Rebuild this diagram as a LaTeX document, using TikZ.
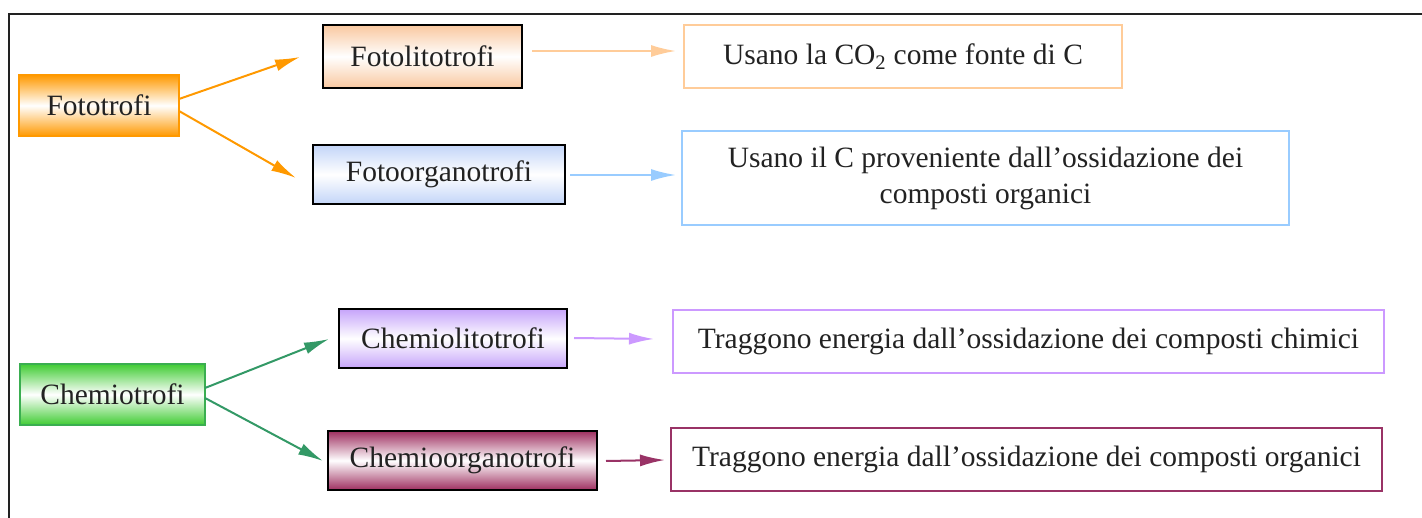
\documentclass[tikz,border=0pt]{standalone}
\usepackage{fontspec}
\setmainfont{Liberation Serif}
\usetikzlibrary{arrows.meta,calc}
\definecolor{orangeA}{HTML}{FF9900}
\definecolor{peachF}{HTML}{F9C8A0}
\definecolor{peachB}{HTML}{FFCC99}
\definecolor{blueF}{HTML}{C3D5F8}
\definecolor{blueB}{HTML}{99CCFF}
\definecolor{purpF}{HTML}{C6A4FA}
\definecolor{purpB}{HTML}{CC99FF}
\definecolor{maroonF}{HTML}{9E2F60}
\definecolor{maroonB}{HTML}{993366}
\definecolor{greenF}{HTML}{40CC33}
\definecolor{greenB}{HTML}{3AAE50}
\definecolor{greenA}{HTML}{339966}
\definecolor{txt}{HTML}{222222}
\begin{document}
\begin{tikzpicture}[x=1pt,y=-1pt,
  font=\fontsize{29.5}{36}\selectfont,
  box/.style={draw, line width=2pt, inner sep=0pt, outer sep=0pt, align=center, text=txt},
  grad/.style={box, top color=#1, bottom color=#1, middle color=white},
  arr/.style={line width=2pt, -{Latex[length=25pt,width=12pt]}}]
\useasboundingbox (0,0) rectangle (1422,518);
% frame
\draw[line width=2.5pt, txt] (9,518) -- (9,14) -- (1422,14);
% left nodes
\node[grad=orangeA, draw=orangeA, minimum width=160pt, minimum height=61pt] (foto) at (99,105.5) {Fototrofi};
\node[grad=greenF, draw=greenB, minimum width=185pt, minimum height=61pt] (chemio) at (112.5,394.5) {Chemiotrofi};
% middle nodes
\node[grad=peachF, draw=black, minimum width=199pt, minimum height=63pt] (folit) at (422.5,56.5) {Fotolitotrofi};
\node[grad=blueF, draw=black, minimum width=252pt, minimum height=59pt] (foorg) at (439,174.5) {Fotoorganotrofi};
\node[grad=purpF, draw=black, minimum width=228pt, minimum height=59pt] (chlit) at (453,338.5) {Chemiolitotrofi};
\node[grad=maroonF, draw=black, minimum width=269pt, minimum height=59pt] (chorg) at (462.5,460.5) {Chemioorganotrofi};
% right boxes
\node[box, draw=peachB, minimum width=438pt, minimum height=63pt] (u1) at (903,56.5) {Usano la CO\textsubscript{2} come fonte di C};
\node[box, draw=blueB, minimum width=607pt, minimum height=94pt] (u2) at (985.5,178) {Usano il C proveniente dall’ossidazione dei\\composti organici};
\node[box, draw=purpB, minimum width=711pt, minimum height=63pt] (t1) at (1028.5,341.5) {Traggono energia dall’ossidazione dei composti chimici};
\node[box, draw=maroonB, minimum width=711pt, minimum height=63pt] (t2) at (1026.5,459.5) {Traggono energia dall’ossidazione dei composti organici};
% connectors
\draw[arr, orangeA] ($(foto.east)+(0,-6.5)$) -- ($(folit.west)+(-23,0.5)$);
\draw[arr, orangeA] ($(foto.east)+(0,5.5)$) -- ($(foorg.west)+(-17,3.5)$);
\draw[arr, greenA] ($(chemio.east)+(0,-6.5)$) -- ($(chlit.west)+(-10,0.5)$);
\draw[arr, greenA] ($(chemio.east)+(0,3.5)$) -- ($(chorg.west)+(-5,0.5)$);
\draw[arr, peachB] ($(folit.east)+(10,-5.5)$) -- ($(u1.west)+(-8,-5.5)$);
\draw[arr, blueB] ($(foorg.east)+(5,0.5)$) -- ($(u2.west)+(-6,-3)$);
\draw[arr, purpB] ($(chlit.east)+(7,-0.5)$) -- ($(t1.west)+(-19,-2.5)$);
\draw[arr, maroonB] ($(chorg.east)+(9,0.5)$) -- ($(t2.west)+(-6,0.5)$);
\end{tikzpicture}
\end{document}
